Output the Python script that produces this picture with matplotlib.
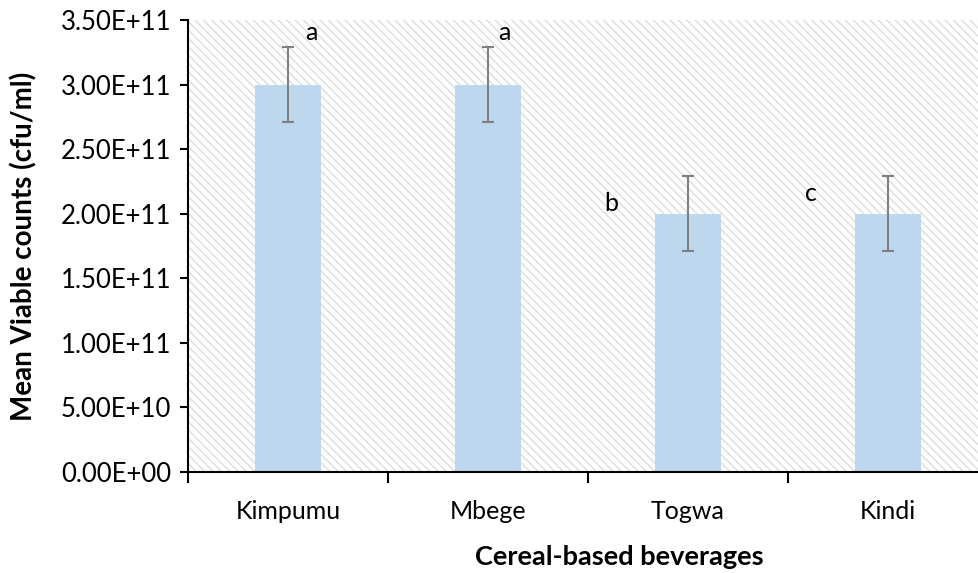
import numpy as np
import matplotlib
matplotlib.use("Agg")
import matplotlib.pyplot as plt
from matplotlib.patches import Rectangle
from matplotlib.ticker import FixedLocator, FuncFormatter

plt.rcParams['font.family'] = ['Lato', 'DejaVu Sans']
plt.rcParams['hatch.linewidth'] = 1.0

# data
beverages = ['Kimpumu', 'Mbege', 'Togwa', 'Kindi']
counts = [3.0e11, 3.0e11, 2.0e11, 2.0e11]
errors = [2.9e10, 2.9e10, 2.9e10, 2.9e10]
letters = ['a', 'a', 'b', 'c']
yticks = np.arange(0, 3.51e11, 0.5e11)

fig = plt.figure(figsize=(9.79, 5.73), dpi=100)
ax = fig.add_axes([188 / 979, 101 / 573, 800 / 979, 452 / 573])

# hatched plot area
bg = Rectangle((0, 0), 1, 1, transform=ax.transAxes, facecolor='white',
               edgecolor='#dcdcdc', hatch='\\\\\\\\', linewidth=0, zorder=0)
ax.add_patch(bg)

x = np.arange(len(beverages))
ax.bar(x, counts, width=0.33, color='#bdd7ee', zorder=2)
ax.errorbar(x, counts, yerr=errors, fmt='none', ecolor='#808080',
            elinewidth=1.5, capsize=4.5, capthick=1.5, zorder=3)

# significance letters (offsets relative to bar)
dx = [0.115, 0.08, -0.385, -0.385]
dy = [0.40e11, 0.40e11, 0.08e11, 0.16e11]
for i, l in enumerate(letters):
    ax.text(x[i] + dx[i], counts[i] + dy[i], l, fontsize=18,
            ha='center', va='center', zorder=4)

ax.set_xlim(-0.5, len(beverages) - 0.5)
ax.set_ylim(0, 3.5e11)
ax.set_yticks(yticks)
ax.yaxis.set_major_formatter(FuncFormatter(lambda v, p: '%.2E' % v))
ax.set_xticks(x)
ax.set_xticklabels(beverages)
ax.xaxis.set_minor_locator(FixedLocator(np.arange(-0.5, len(beverages) - 0.4, 1)))
ax.tick_params(axis='x', which='major', length=0, pad=20, labelsize=18)
ax.tick_params(axis='x', which='minor', length=8, width=1.5, direction='out')
ax.tick_params(axis='y', length=6, width=1.5, labelsize=18.5, pad=6)

for s in ['top', 'right']:
    ax.spines[s].set_visible(False)
for s in ['left', 'bottom']:
    ax.spines[s].set_linewidth(1.5)

ax.set_ylabel('Mean Viable counts (cfu/ml)', fontsize=20, fontweight='bold', va='center')
ax.yaxis.set_label_coords(-0.205, 0.5)
ax.set_xlabel('Cereal-based beverages', fontsize=19.5, fontweight='bold', va='center')
ax.xaxis.set_label_coords(0.539, -0.188)

fig.savefig('out.png', dpi=100)
